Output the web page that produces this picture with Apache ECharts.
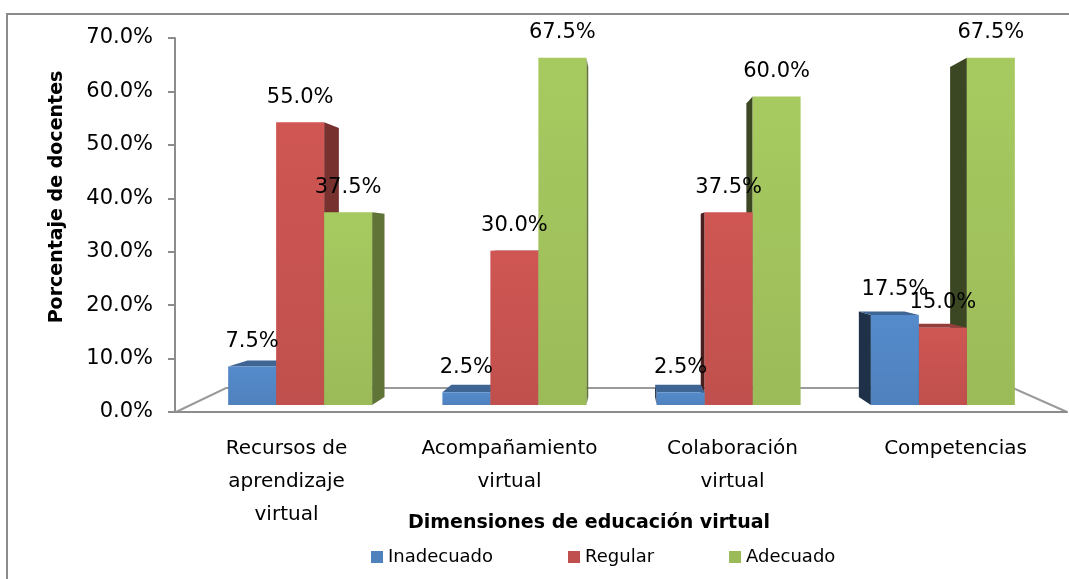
<!DOCTYPE html>
<html>
<head>
<meta charset="utf-8">
<script src="https://cdn.jsdelivr.net/npm/echarts@6/dist/echarts.min.js"></script>
<style>
  html, body { margin: 0; padding: 0; background: #fff; }
  #chart { width: 1069px; height: 579px; }
</style>
</head>
<body>
<div id="chart"></div>
<script>
// datos del gráfico
var categorias = ["Recursos de\naprendizaje\nvirtual", "Acompañamiento\nvirtual", "Colaboración\nvirtual", "Competencias"];
var nombres = ["Inadecuado", "Regular", "Adecuado"];
var inadecuado = [7.5, 2.5, 2.5, 17.5];
var regular = [55.0, 30.0, 37.5, 15.0];
var adecuado = [37.5, 67.5, 60.0, 67.5];
var colores = ["#4F81BD", "#C0504D", "#9BBB59"];

var FONT = "DejaVu Sans";
// punto de fuga para el efecto 3D
var VP = [625, 243];
var K = 0.049;

function shade(hex, f) {
  var n = parseInt(hex.slice(1), 16);
  var r = Math.min(255, Math.round(((n >> 16) & 255) * f));
  var g = Math.min(255, Math.round(((n >> 8) & 255) * f));
  var b = Math.min(255, Math.round((n & 255) * f));
  return "rgb(" + r + "," + g + "," + b + ")";
}
function back(p) {
  return [p[0] + (VP[0] - p[0]) * K, p[1] + (VP[1] - p[1]) * K];
}

function renderItem(params, api) {
  var idx = api.value(0);
  var base = api.coord([idx, 0]);
  var w = api.size([1, 0])[0] * 0.224;
  var bars = [];
  for (var s = 0; s < 3; s++) {
    var v = api.value(s + 1);
    var x0 = base[0] + (s - 1.5) * w;
    bars.push({ s: s, v: v, x0: x0, x1: x0 + w, yt: api.coord([idx, v])[1], yb: base[1] });
  }
  // pintar primero las barras más alejadas del punto de fuga
  var order = bars.slice().sort(function (a, b) {
    return Math.abs(b.x0 + w / 2 - VP[0]) - Math.abs(a.x0 + w / 2 - VP[0]);
  });
  var children = [];
  order.forEach(function (b) {
    var c = colores[b.s];
    var tl = [b.x0, b.yt], tr = [b.x1, b.yt], bl = [b.x0, b.yb], br = [b.x1, b.yb];
    if (b.x1 < VP[0]) {
      children.push({ type: "polygon", shape: { points: [tr, br, back(br), back(tr)] }, style: { fill: shade(c, 0.62) } });
    } else if (b.x0 > VP[0]) {
      children.push({ type: "polygon", shape: { points: [tl, bl, back(bl), back(tl)] }, style: { fill: shade(c, 0.38) } });
    }
    if (b.yt > VP[1]) {
      children.push({ type: "polygon", shape: { points: [tl, tr, back(tr), back(tl)] }, style: { fill: shade(c, 0.78) } });
    }
    children.push({
      type: "rect",
      shape: { x: b.x0, y: b.yt, width: w, height: b.yb - b.yt },
      style: {
        fill: {
          type: "linear", x: 0, y: 0, x2: 0, y2: 1,
          colorStops: [{ offset: 0, color: shade(c, 1.08) }, { offset: 1, color: c }]
        }
      }
    });
  });
  bars.forEach(function (b) {
    children.push({
      type: "text",
      style: {
        text: b.v.toFixed(1) + "%",
        x: (b.x0 + b.x1) / 2, y: b.yt - 25,
        align: "center", verticalAlign: "middle",
        fontSize: 21, fontFamily: FONT, fill: "#000"
      }
    });
  });
  return { type: "group", children: children };
}

var chart = echarts.init(document.getElementById("chart"));
var datos = categorias.map(function (c, i) {
  return [i, inadecuado[i], regular[i], adecuado[i]];
});

var series = [{
  type: "custom",
  xAxisIndex: 1,
  yAxisIndex: 1,
  renderItem: renderItem,
  data: datos,
  z: 3,
  silent: true
}];
nombres.forEach(function (n, i) {
  series.push({ name: n, type: "bar", xAxisIndex: 1, yAxisIndex: 1, data: [], itemStyle: { color: colores[i] } });
});

chart.setOption({
  animation: false,
  grid: [
    { left: 175, right: 2, top: 38, bottom: 167 },
    { left: 193, right: 19, top: 45, bottom: 174 }
  ],
  xAxis: [{
    type: "category",
    gridIndex: 0,
    data: categorias,
    axisLine: { lineStyle: { color: "#8c8c8c", width: 2 } },
    axisTick: { interval: 0, length: 7, lineStyle: { color: "#8c8c8c", width: 2 } },
    axisLabel: { interval: 0, hideOverlap: false, color: "#000", fontSize: 20, fontFamily: FONT, lineHeight: 33, margin: 20 }
  }, {
    type: "category",
    gridIndex: 1,
    data: categorias,
    show: false
  }],
  yAxis: [{
    type: "value",
    gridIndex: 0,
    min: 0, max: 70, interval: 10,
    axisLine: { show: true, lineStyle: { color: "#8c8c8c", width: 2 } },
    axisTick: { show: true, length: 7, lineStyle: { color: "#8c8c8c", width: 2 } },
    splitLine: { show: false },
    axisLabel: {
      color: "#000", fontSize: 21, fontFamily: FONT, margin: 22,
      formatter: function (v) { return v.toFixed(1) + "%"; }
    }
  }, {
    type: "value",
    gridIndex: 1,
    min: 0, max: 70,
    show: false
  }],
  legend: {
    data: nombres,
    left: 366, top: 543,
    icon: "rect",
    itemWidth: 12, itemHeight: 12,
    itemGap: 75,
    selectedMode: false,
    textStyle: { color: "#000", fontSize: 18, fontFamily: FONT }
  },
  graphic: [
    {
      type: "rect", z: 0,
      shape: { x: 7, y: 14, width: 1100, height: 600 },
      style: { fill: "none", stroke: "#8c8c8c", lineWidth: 2 }
    },
    {
      type: "polyline", z: 0,
      shape: { points: [[176, 412], [226, 388], [1013, 388], [1067, 412]] },
      style: { fill: "none", stroke: "#9a9a9a", lineWidth: 2 }
    },
    {
      type: "text", z: 5,
      x: 57, y: 197, rotation: Math.PI / 2,
      style: { text: "Porcentaje de docentes", align: "center", verticalAlign: "middle", fontSize: 19, fontWeight: "bold", fontFamily: FONT, fill: "#000" }
    },
    {
      type: "text", z: 5,
      x: 589, y: 523,
      style: { text: "Dimensiones de educación virtual", align: "center", verticalAlign: "middle", fontSize: 19, fontWeight: "bold", fontFamily: FONT, fill: "#000" }
    }
  ],
  series: series
});
</script>
</body>
</html>
